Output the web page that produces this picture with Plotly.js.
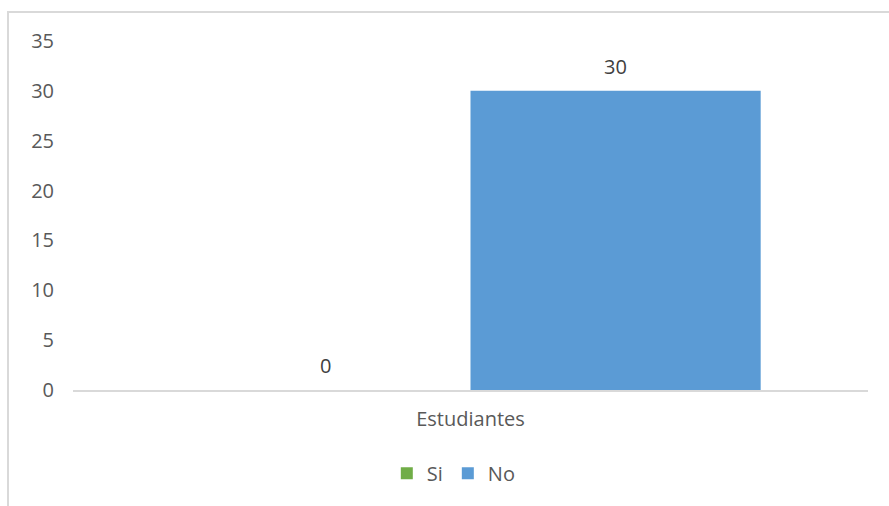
<!DOCTYPE html>
<html>
<head>
<meta charset="utf-8">
<script src="https://cdn.plot.ly/plotly-3.0.1.min.js"></script>
<style>
html,body{margin:0;padding:0;background:#fff;overflow:hidden;}
#frame{position:absolute;left:7px;top:11px;width:900px;height:520px;border:2px solid #d9d9d9;box-sizing:border-box;pointer-events:none;z-index:5;}
#chart{position:absolute;left:0;top:0;width:889px;height:506px;}
</style>
</head>
<body>
<div id="chart"></div>
<div id="frame"></div>
<script>
const categories = ["Estudiantes"];
const seriesNames = ["Si", "No"];
const siValues = [0];
const noValues = [30];
const colors = ["#70ad47", "#5b9bd5"];

const FAM = "Open Sans, Liberation Sans, sans-serif";
const font = {family: FAM, size: 20, color: "#595959"};
const bargap = 0.27;
const allSeries = [siValues, noValues];

const traces = allSeries.map((vals, i) => ({
  type: "bar",
  name: seriesNames[i],
  x: categories,
  y: vals,
  marker: {color: colors[i]},
  hoverinfo: "skip"
}));

// data labels placed over each bar of the group
const groupW = 1 - bargap;
const barW = groupW / allSeries.length;
const annotations = [];
allSeries.forEach((vals, i) => {
  vals.forEach((v, j) => {
    annotations.push({
      xref: "x", yref: "y",
      x: j - groupW / 2 + barW * (i + 0.5),
      y: v,
      text: String(v),
      showarrow: false,
      yanchor: "bottom",
      yshift: 9,
      font: {family: FAM, size: 20, color: "#404040"}
    });
  });
});

const layout = {
  width: 889,
  height: 506,
  margin: {l: 73, r: 21, t: 41, b: 116, autoexpand: false},
  paper_bgcolor: "#fff",
  plot_bgcolor: "#fff",
  barmode: "group",
  bargap: bargap,
  bargroupgap: 0,
  font: font,
  showlegend: true,
  annotations: annotations,
  legend: {
    orientation: "h",
    x: 0.479, xanchor: "center",
    y: -0.183, yanchor: "top",
    font: font,
    itemwidth: 30,
    traceorder: "normal"
  },
  xaxis: {
    showline: true,
    linecolor: "#d9d9d9",
    linewidth: 1.5,
    ticks: "",
    tickfont: font,
    ticklabelstandoff: 10,
    showgrid: false,
    zeroline: false,
    fixedrange: true
  },
  yaxis: {
    range: [0, 35],
    dtick: 5,
    showgrid: false,
    showline: false,
    zeroline: false,
    ticks: "",
    tickfont: font,
    ticklabelstandoff: 18,
    fixedrange: true
  }
};

Plotly.newPlot("chart", traces, layout, {displayModeBar: false, staticPlot: true});
</script>
</body>
</html>
